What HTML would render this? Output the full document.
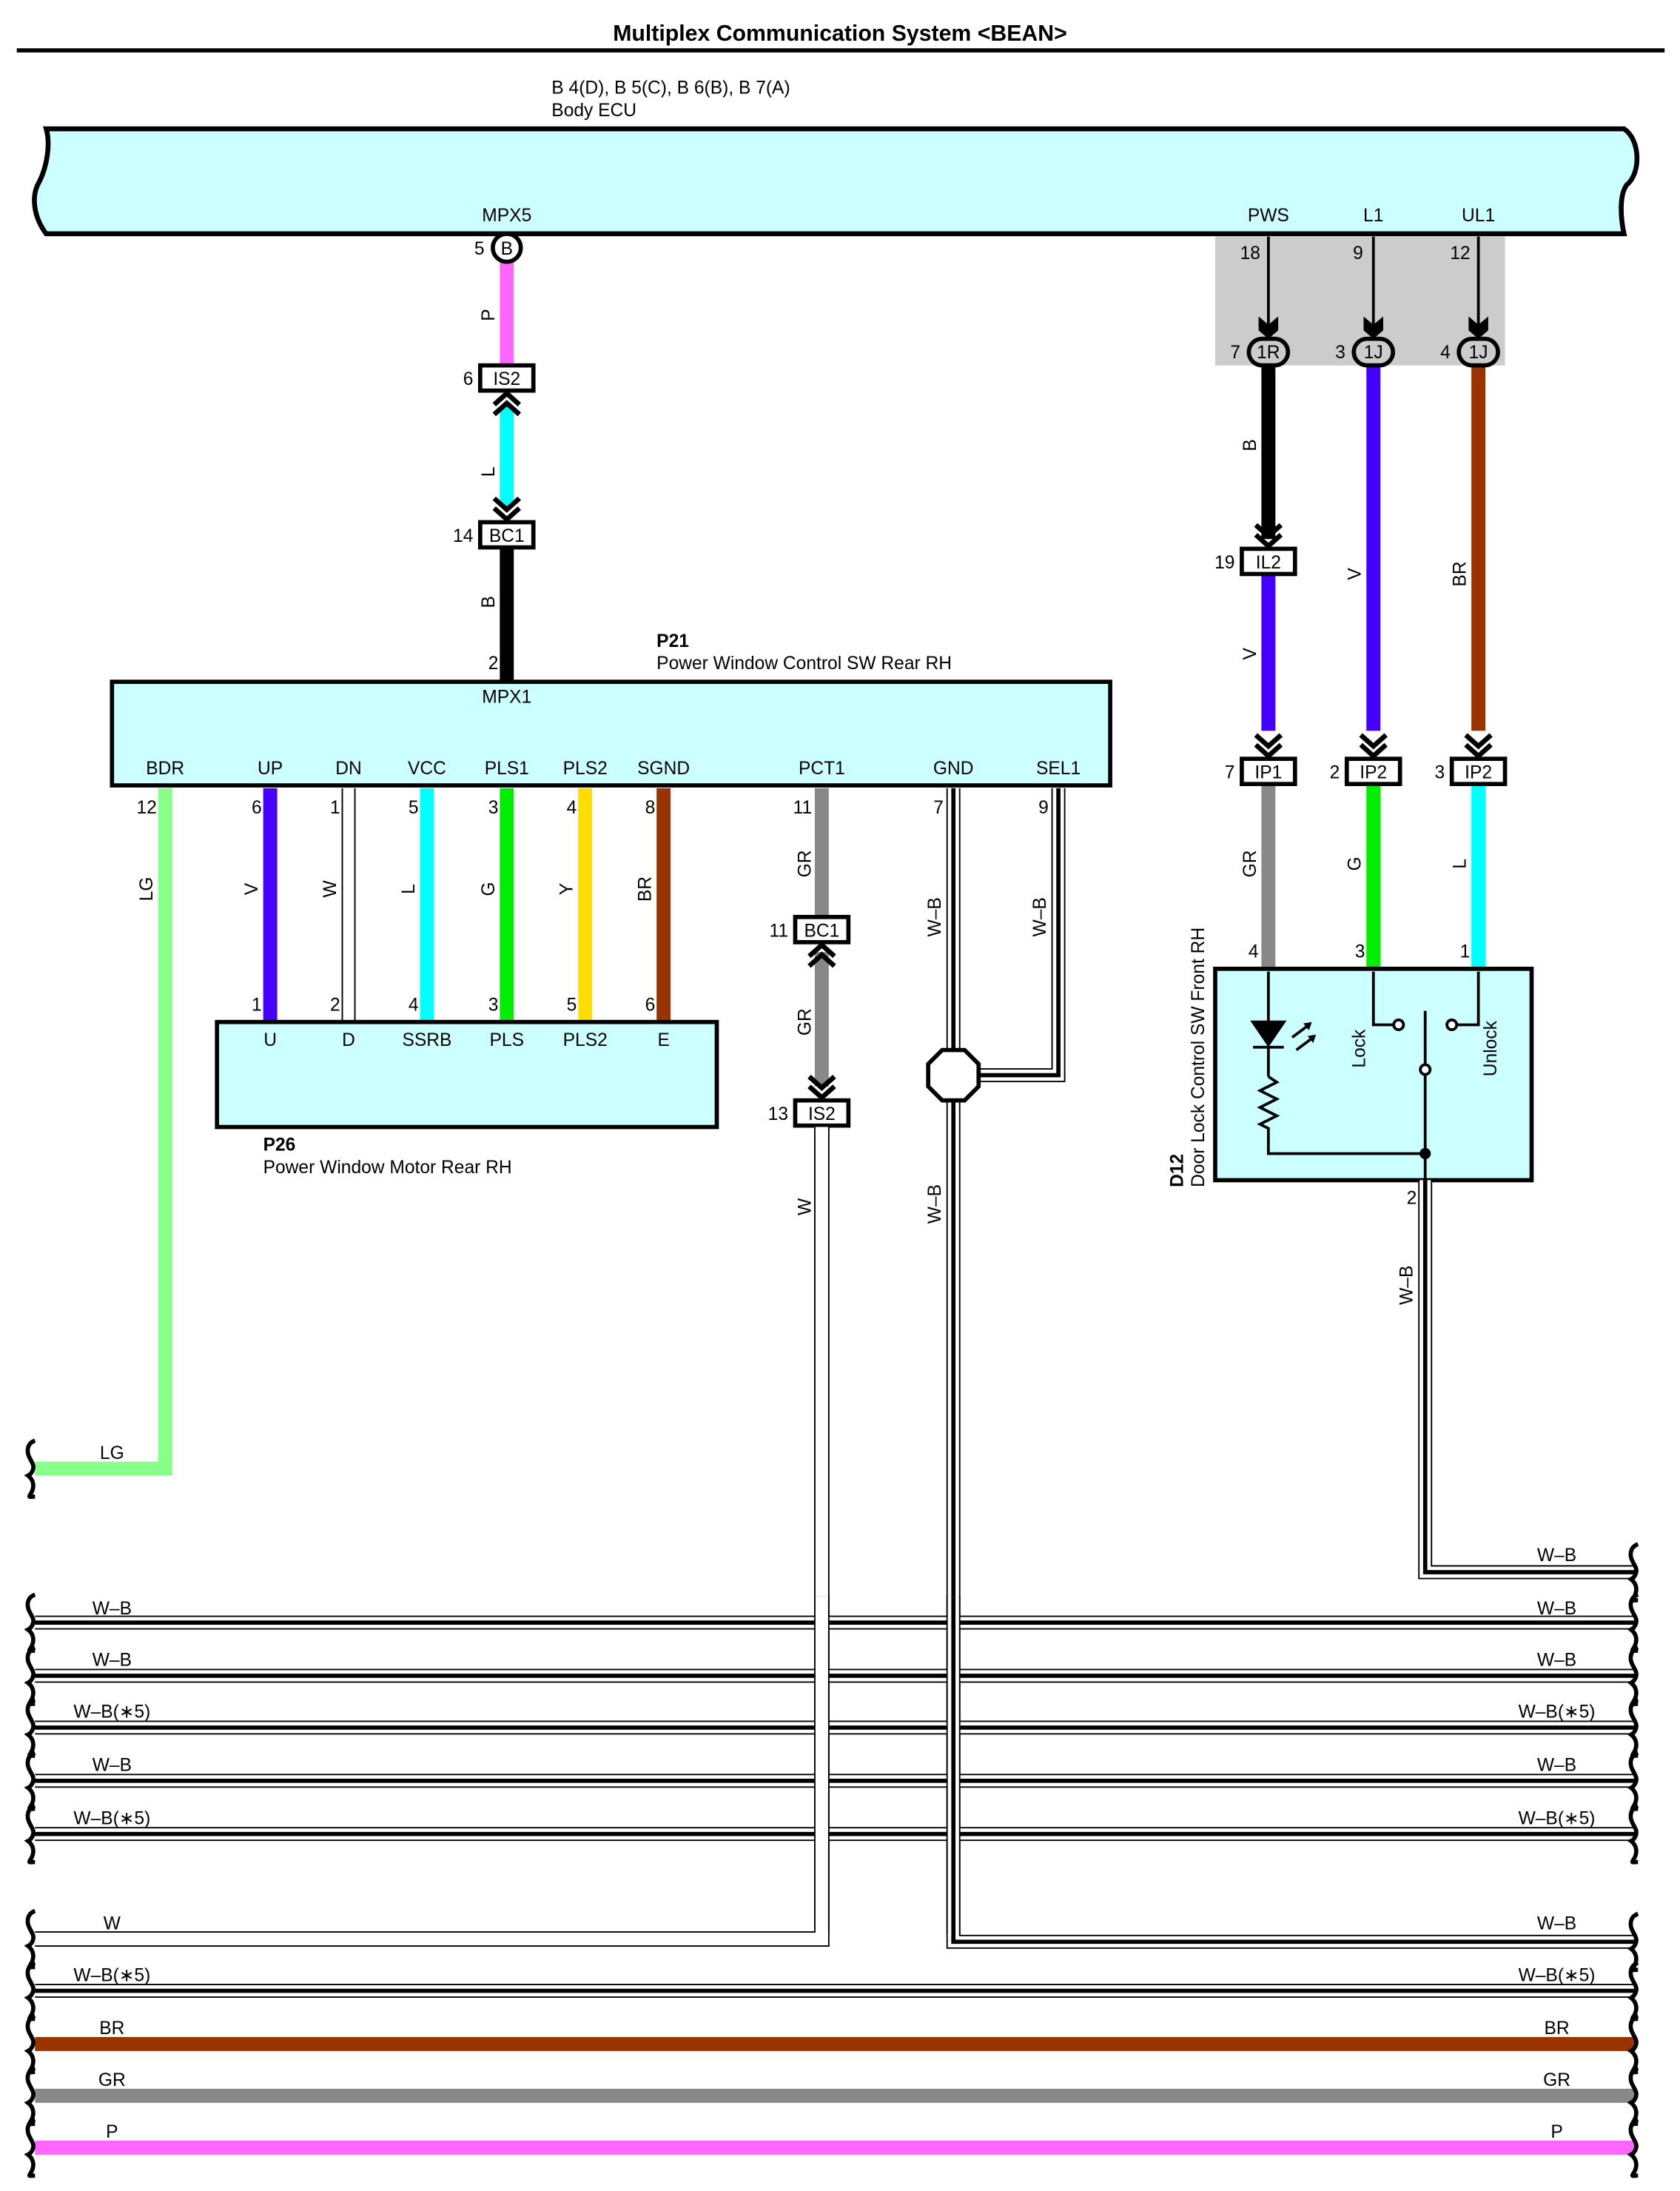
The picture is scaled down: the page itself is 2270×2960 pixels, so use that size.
<!DOCTYPE html>
<html><head><meta charset="utf-8"><style>
html,body{margin:0;padding:0;background:#fff;}
svg{display:block;}
text{font-family:"Liberation Sans Narrow","Liberation Sans",sans-serif;font-size:13px;fill:#000;}
.t{font-family:"Liberation Sans",sans-serif;}
.c{text-anchor:middle;}
.e{text-anchor:end;}
</style></head><body>
<svg width="2270" height="2960" viewBox="0 0 1200 1565" preserveAspectRatio="none" xmlns="http://www.w3.org/2000/svg">
<defs>
<g id="chd"><polyline points="-9,-15 0,-7 9,-15" fill="none" stroke="#000" stroke-width="3.5"/><polyline points="-9,-8 0,0 9,-8" fill="none" stroke="#000" stroke-width="3.5"/></g>
<g id="chu"><polyline points="-9,15 0,7 9,15" fill="none" stroke="#000" stroke-width="3.5"/><polyline points="-9,8 0,0 9,8" fill="none" stroke="#000" stroke-width="3.5"/></g>
<path id="brL" d="M27,-20 c-6,2 -6,8 -4,12 c2,4 4,6 2,10 c-1,2 -3,3 -3,3 c4,3 5,8 2,13 c-2,3 -1,2 3,2" fill="none" stroke="#000" stroke-width="3"/>
<path id="arr" d="M-7,-14 L0,-8 L7,-14 L7,-4 L0,2 L-7,-4 Z" fill="#000"/>
</defs>

<!-- title -->
<text x="600" y="29" class="c t" style="font-size:16px;font-weight:bold">Multiplex Communication System &lt;BEAN&gt;</text>
<line x1="12" y1="36" x2="1189" y2="36" stroke="#000" stroke-width="3"/>

<text x="394" y="67" style="font-size:13px">B 4(D), B 5(C), B 6(B), B 7(A)</text>
<text x="394" y="83" style="font-size:13px">Body ECU</text>

<!-- Body ECU -->
<path d="M33,92 L1160,92 C1172,100 1172,124 1162,132 C1156,140 1158,158 1160,167 L33,167 C24,155 22,140 28,130 C34,118 36,102 33,92 Z" fill="#ccffff" stroke="#000" stroke-width="3.5"/>
<text x="362" y="158" class="c">MPX5</text>
<text x="906" y="158" class="c">PWS</text>
<text x="981" y="158" class="c">L1</text>
<text x="1056" y="158" class="c">UL1</text>

<!-- gray box -->
<rect x="868" y="169" width="207" height="92" fill="#cccccc"/>
<line x1="906" y1="169" x2="906" y2="238" stroke="#000" stroke-width="2"/>
<line x1="981" y1="169" x2="981" y2="238" stroke="#000" stroke-width="2"/>
<line x1="1056" y1="169" x2="1056" y2="238" stroke="#000" stroke-width="2"/>
<use href="#arr" x="906" y="240"/><use href="#arr" x="981" y="240"/><use href="#arr" x="1056" y="240"/>
<text x="893" y="185" class="c">18</text><text x="970" y="185" class="c">9</text><text x="1043" y="185" class="c">12</text>

<!-- wires right -->
<line x1="906" y1="255" x2="906" y2="385" stroke="#000" stroke-width="10"/>
<line x1="906" y1="410" x2="906" y2="522" stroke="#4400ff" stroke-width="10"/>
<line x1="981" y1="255" x2="981" y2="522" stroke="#4400ff" stroke-width="10"/>
<line x1="1056" y1="255" x2="1056" y2="522" stroke="#993300" stroke-width="10"/>
<line x1="906" y1="560" x2="906" y2="692" stroke="#888888" stroke-width="10"/>
<line x1="981" y1="560" x2="981" y2="692" stroke="#00ee00" stroke-width="10"/>
<line x1="1056" y1="560" x2="1056" y2="692" stroke="#00ffff" stroke-width="10"/>

<g stroke="#000" stroke-width="3" fill="#cccccc">
<rect x="892" y="242" width="28" height="19" rx="9.5"/>
<rect x="967" y="242" width="28" height="19" rx="9.5"/>
<rect x="1042" y="242" width="28" height="19" rx="9.5"/>
</g>
<text x="906" y="256" class="c">1R</text><text x="981" y="256" class="c">1J</text><text x="1056" y="256" class="c">1J</text>
<text x="886" y="256" class="e">7</text><text x="961" y="256" class="e">3</text><text x="1036" y="256" class="e">4</text>

<use href="#chd" x="906" y="390"/>
<use href="#chd" x="906" y="540"/><use href="#chd" x="981" y="540"/><use href="#chd" x="1056" y="540"/>
<g stroke="#000" stroke-width="3" fill="#fff">
<rect x="887" y="392" width="38" height="18"/>
<rect x="887" y="542" width="38" height="18"/>
<rect x="962" y="542" width="38" height="18"/>
<rect x="1037" y="542" width="38" height="18"/>
</g>
<text x="906" y="406" class="c">IL2</text><text x="882" y="406" class="e">19</text>
<text x="906" y="556" class="c">IP1</text><text x="882" y="556" class="e">7</text>
<text x="981" y="556" class="c">IP2</text><text x="957" y="556" class="e">2</text>
<text x="1056" y="556" class="c">IP2</text><text x="1032" y="556" class="e">3</text>
<g class="c">
<text transform="translate(897,318) rotate(-90)" class="c">B</text>
<text transform="translate(897,467) rotate(-90)" class="c">V</text>
<text transform="translate(972,410) rotate(-90)" class="c">V</text>
<text transform="translate(1047,410) rotate(-90)" class="c">BR</text>
<text transform="translate(897,617) rotate(-90)" class="c">GR</text>
<text transform="translate(972,617) rotate(-90)" class="c">G</text>
<text transform="translate(1047,617) rotate(-90)" class="c">L</text>
</g>
<text x="899" y="684" class="e">4</text><text x="975" y="684" class="e">3</text><text x="1050" y="684" class="e">1</text>

<!-- D12 -->
<rect x="868" y="692" width="226" height="151" fill="#ccffff" stroke="#000" stroke-width="3"/>
<g stroke="#000" stroke-width="2" fill="none">
<line x1="906" y1="694" x2="906" y2="730"/>
<line x1="906" y1="748" x2="906" y2="769"/>
<polyline points="906,769 912,773 900,779 912,785 900,791 912,797 900,803 906,806 906,824 1018,824"/>
<line x1="895" y1="748" x2="917" y2="748"/>
<polyline points="981,694 981,732 995,732"/>
<polyline points="1056,694 1056,732 1041,732"/>
<line x1="1018" y1="722" x2="1018" y2="843"/>
<line x1="923" y1="741" x2="935" y2="732"/><line x1="926" y1="750" x2="938" y2="741"/>
</g>
<polygon points="893,729 919,729 906,748" fill="#000"/>
<polygon points="937,730 931,731 935,736" fill="#000"/><polygon points="940,739 934,740 938,745" fill="#000"/>
<circle cx="999" cy="732" r="3.5" fill="#fff" stroke="#000" stroke-width="2"/>
<circle cx="1037" cy="732" r="3.5" fill="#fff" stroke="#000" stroke-width="2"/>
<circle cx="1018" cy="764" r="3.5" fill="#fff" stroke="#000" stroke-width="2"/>
<circle cx="1018" cy="824" r="4" fill="#000"/>
<text transform="translate(975,749) rotate(-90)" class="c">Lock</text>
<text transform="translate(1069,749) rotate(-90)" class="c">Unlock</text>
<text transform="translate(845,848) rotate(-90)" style="font-weight:bold">D12</text>
<text transform="translate(860,848) rotate(-90)">Door Lock Control SW Front RH</text>
<text x="1012" y="860" class="e">2</text>
<!-- D12 W-B -->
<polyline points="1018,843 1018,1123 1168,1123" fill="none" stroke="#000" stroke-width="10"/>
<polyline points="1018,843 1018,1123 1168,1123" fill="none" stroke="#fff" stroke-width="8"/>
<polyline points="1018,843 1018,1123 1168,1123" fill="none" stroke="#000" stroke-width="3"/>
<text transform="translate(1009,918) rotate(-90)" class="c">W&#8211;B</text>

<!-- left MPX5 chain -->
<line x1="362" y1="187" x2="362" y2="261" stroke="#ff66ff" stroke-width="10"/>
<line x1="362" y1="290" x2="362" y2="362" stroke="#00ffff" stroke-width="10"/>
<line x1="362" y1="391" x2="362" y2="487" stroke="#000" stroke-width="10"/>
<circle cx="362" cy="177" r="10" fill="#fff" stroke="#000" stroke-width="3"/>
<text x="362" y="182" class="c">B</text><text x="346" y="182" class="e">5</text>
<use href="#chu" x="362" y="281"/><use href="#chd" x="362" y="371"/>
<rect x="343" y="261" width="38" height="18" fill="#fff" stroke="#000" stroke-width="3"/>
<rect x="343" y="373" width="38" height="18" fill="#fff" stroke="#000" stroke-width="3"/>
<text x="362" y="275" class="c">IS2</text><text x="338" y="275" class="e">6</text>
<text x="362" y="387" class="c">BC1</text><text x="338" y="387" class="e">14</text>
<text transform="translate(353,225) rotate(-90)" class="c">P</text>
<text transform="translate(353,337) rotate(-90)" class="c">L</text>
<text transform="translate(353,430) rotate(-90)" class="c">B</text>
<text x="356" y="478" class="e">2</text>
<text x="469" y="462" style="font-weight:bold">P21</text>
<text x="469" y="478">Power Window Control SW Rear RH</text>

<!-- P21 box -->
<rect x="80" y="487" width="713" height="74" fill="#ccffff" stroke="#000" stroke-width="3"/>
<text x="362" y="502" class="c">MPX1</text>
<g class="c">
<text x="118" y="553" class="c">BDR</text><text x="193" y="553" class="c">UP</text><text x="249" y="553" class="c">DN</text>
<text x="305" y="553" class="c">VCC</text><text x="362" y="553" class="c">PLS1</text><text x="418" y="553" class="c">PLS2</text>
<text x="474" y="553" class="c">SGND</text><text x="587" y="553" class="c">PCT1</text><text x="681" y="553" class="c">GND</text>
<text x="756" y="553" class="c">SEL1</text>
</g>

<!-- wires down to P26 -->
<polyline points="118,563 118,1049 25,1049" fill="none" stroke="#88ff88" stroke-width="10"/>
<line x1="193" y1="563" x2="193" y2="730" stroke="#4400ff" stroke-width="10"/>
<line x1="249" y1="563" x2="249" y2="730" stroke="#000" stroke-width="10"/>
<line x1="249" y1="563" x2="249" y2="730" stroke="#fff" stroke-width="8"/>
<line x1="305" y1="563" x2="305" y2="730" stroke="#00ffff" stroke-width="10"/>
<line x1="362" y1="563" x2="362" y2="730" stroke="#00ee00" stroke-width="10"/>
<line x1="418" y1="563" x2="418" y2="730" stroke="#ffdd00" stroke-width="10"/>
<line x1="474" y1="563" x2="474" y2="730" stroke="#993300" stroke-width="10"/>
<text x="112" y="581" class="e">12</text><text x="187" y="581" class="e">6</text><text x="243" y="581" class="e">1</text>
<text x="299" y="581" class="e">5</text><text x="356" y="581" class="e">3</text><text x="412" y="581" class="e">4</text><text x="468" y="581" class="e">8</text>
<text x="187" y="722" class="e">1</text><text x="243" y="722" class="e">2</text><text x="299" y="722" class="e">4</text>
<text x="356" y="722" class="e">3</text><text x="412" y="722" class="e">5</text><text x="468" y="722" class="e">6</text>
<text transform="translate(109,635) rotate(-90)" class="c">LG</text>
<text transform="translate(184,635) rotate(-90)" class="c">V</text>
<text transform="translate(240,635) rotate(-90)" class="c">W</text>
<text transform="translate(296,635) rotate(-90)" class="c">L</text>
<text transform="translate(353,635) rotate(-90)" class="c">G</text>
<text transform="translate(409,635) rotate(-90)" class="c">Y</text>
<text transform="translate(465,635) rotate(-90)" class="c">BR</text>

<!-- P26 -->
<rect x="155" y="730" width="357" height="75" fill="#ccffff" stroke="#000" stroke-width="3"/>
<text x="193" y="747" class="c">U</text><text x="249" y="747" class="c">D</text><text x="305" y="747" class="c">SSRB</text>
<text x="362" y="747" class="c">PLS</text><text x="418" y="747" class="c">PLS2</text><text x="474" y="747" class="c">E</text>
<text x="188" y="822" style="font-weight:bold">P26</text>
<text x="188" y="838">Power Window Motor Rear RH</text>

<!-- PCT1 -->
<line x1="587" y1="563" x2="587" y2="655" stroke="#888888" stroke-width="10"/>
<line x1="587" y1="680" x2="587" y2="776" stroke="#888888" stroke-width="10"/>
<use href="#chu" x="587" y="675"/><use href="#chd" x="587" y="784"/>
<rect x="568" y="655" width="38" height="18" fill="#fff" stroke="#000" stroke-width="3"/>
<rect x="568" y="786" width="38" height="18" fill="#fff" stroke="#000" stroke-width="3"/>
<text x="587" y="669" class="c">BC1</text><text x="563" y="669" class="e">11</text>
<text x="587" y="800" class="c">IS2</text><text x="563" y="800" class="e">13</text>
<text x="580" y="581" class="e">11</text>
<text transform="translate(579,617) rotate(-90)" class="c">GR</text>
<text transform="translate(579,730) rotate(-90)" class="c">GR</text>
<text transform="translate(579,862) rotate(-90)" class="c">W</text>
<!-- W path to bottom -->
<polyline points="587,805 587,1385 25,1385" fill="none" stroke="#000" stroke-width="11"/>
<polyline points="587,805 587,1385 25,1385" fill="none" stroke="#fff" stroke-width="9"/>

<!-- GND & SEL1 W-B -->
<g fill="none">
<polyline points="681,563 681,1387 1168,1387" stroke="#000" stroke-width="10"/>
<polyline points="681,563 681,1387 1168,1387" stroke="#fff" stroke-width="8"/>
<polyline points="681,563 681,1387 1168,1387" stroke="#000" stroke-width="3"/>
<polyline points="756,563 756,768 700,768" stroke="#000" stroke-width="10"/>
<polyline points="756,563 756,768 700,768" stroke="#fff" stroke-width="8"/>
<polyline points="756,563 756,768 700,768" stroke="#000" stroke-width="3"/>
</g>
<polygon points="673,750 689,750 699,760 699,776 689,786 673,786 663,776 663,760" fill="#fff" stroke="#000" stroke-width="3"/>
<text x="674" y="581" class="e">7</text><text x="749" y="581" class="e">9</text>
<text transform="translate(672,655) rotate(-90)" class="c">W&#8211;B</text>
<text transform="translate(747,655) rotate(-90)" class="c">W&#8211;B</text>
<text transform="translate(672,860) rotate(-90)" class="c">W&#8211;B</text>

<!-- bundle rows -->
<g fill="none">
<g stroke="#000" stroke-width="10">
<line x1="25" y1="1159" x2="1168" y2="1159"/><line x1="25" y1="1197" x2="1168" y2="1197"/>
<line x1="25" y1="1234" x2="1168" y2="1234"/><line x1="25" y1="1272" x2="1168" y2="1272"/>
<line x1="25" y1="1310" x2="1168" y2="1310"/><line x1="25" y1="1422" x2="1168" y2="1422"/>
</g>
<g stroke="#fff" stroke-width="8">
<line x1="25" y1="1159" x2="1168" y2="1159"/><line x1="25" y1="1197" x2="1168" y2="1197"/>
<line x1="25" y1="1234" x2="1168" y2="1234"/><line x1="25" y1="1272" x2="1168" y2="1272"/>
<line x1="25" y1="1310" x2="1168" y2="1310"/><line x1="25" y1="1422" x2="1168" y2="1422"/>
</g>
<g stroke="#000" stroke-width="3">
<line x1="25" y1="1159" x2="1168" y2="1159"/><line x1="25" y1="1197" x2="1168" y2="1197"/>
<line x1="25" y1="1234" x2="1168" y2="1234"/><line x1="25" y1="1272" x2="1168" y2="1272"/>
<line x1="25" y1="1310" x2="1168" y2="1310"/><line x1="25" y1="1422" x2="1168" y2="1422"/>
</g>
<line x1="25" y1="1460" x2="1168" y2="1460" stroke="#993300" stroke-width="10"/>
<line x1="25" y1="1497" x2="1168" y2="1497" stroke="#888888" stroke-width="10"/>
<line x1="25" y1="1534" x2="1168" y2="1534" stroke="#ff66ff" stroke-width="10"/>
</g>
<!-- verticals crossing -->
<line x1="587" y1="1140" x2="587" y2="1380" stroke="#000" stroke-width="11"/>
<line x1="587" y1="1140" x2="587" y2="1381" stroke="#fff" stroke-width="9"/>
<line x1="681" y1="1140" x2="681" y2="1382" stroke="#000" stroke-width="10"/>
<line x1="681" y1="1140" x2="681" y2="1383" stroke="#fff" stroke-width="8"/>
<line x1="681" y1="1140" x2="681" y2="1388" stroke="#000" stroke-width="3"/>

<!-- labels -->
<g style="font-family:'Liberation Sans',sans-serif;font-size:13px">
<text x="80" y="1042" class="c">LG</text>
<text x="80" y="1153" class="c">W&#8211;B</text><text x="80" y="1190" class="c">W&#8211;B</text>
<text x="80" y="1227" class="c">W&#8211;B(&#8727;5)</text><text x="80" y="1265" class="c">W&#8211;B</text>
<text x="80" y="1303" class="c">W&#8211;B(&#8727;5)</text>
<text x="80" y="1378" class="c">W</text><text x="80" y="1415" class="c">W&#8211;B(&#8727;5)</text>
<text x="80" y="1453" class="c">BR</text><text x="80" y="1490" class="c">GR</text><text x="80" y="1527" class="c">P</text>
<text x="1112" y="1115" class="c">W&#8211;B</text>
<text x="1112" y="1153" class="c">W&#8211;B</text><text x="1112" y="1190" class="c">W&#8211;B</text>
<text x="1112" y="1227" class="c">W&#8211;B(&#8727;5)</text><text x="1112" y="1265" class="c">W&#8211;B</text>
<text x="1112" y="1303" class="c">W&#8211;B(&#8727;5)</text>
<text x="1112" y="1378" class="c">W&#8211;B</text><text x="1112" y="1415" class="c">W&#8211;B(&#8727;5)</text>
<text x="1112" y="1453" class="c">BR</text><text x="1112" y="1490" class="c">GR</text><text x="1112" y="1527" class="c">P</text>
</g>

<!-- braces left -->
<g transform="translate(-2,0)">
<use href="#brL" y="1049"/>
<use href="#brL" y="1159"/><use href="#brL" y="1197"/><use href="#brL" y="1234"/><use href="#brL" y="1272"/><use href="#brL" y="1310"/>
<use href="#brL" y="1385"/><use href="#brL" y="1422"/><use href="#brL" y="1460"/><use href="#brL" y="1497"/><use href="#brL" y="1534"/>
</g>
<!-- braces right -->
<g transform="translate(1143,0)">
<use href="#brL" y="1123"/>
<use href="#brL" y="1159"/><use href="#brL" y="1197"/><use href="#brL" y="1234"/><use href="#brL" y="1272"/><use href="#brL" y="1310"/>
<use href="#brL" y="1387"/><use href="#brL" y="1422"/><use href="#brL" y="1460"/><use href="#brL" y="1497"/><use href="#brL" y="1534"/>
</g>
</svg>
</body></html>
